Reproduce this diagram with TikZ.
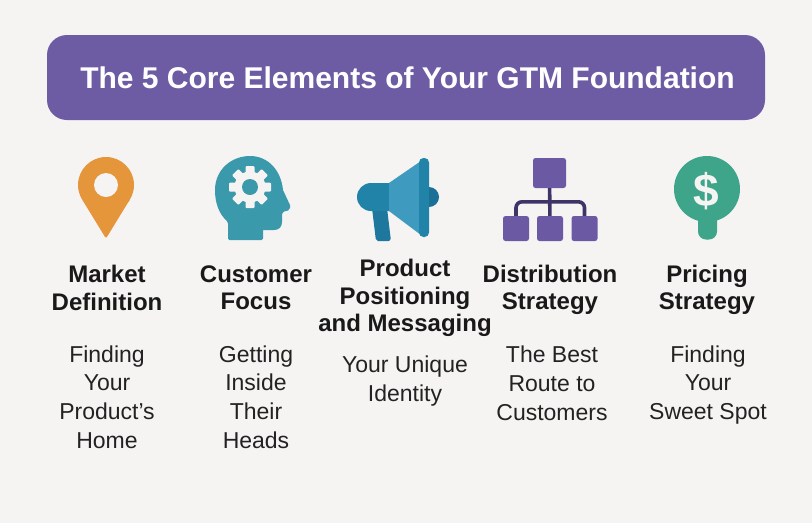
\documentclass[tikz,border=0pt]{standalone}
\usepackage{fontspec}
\setmainfont{Liberation Sans}
\definecolor{pagebg}{HTML}{F6F4F3}
\definecolor{bannerfill}{HTML}{6D5CA3}
\definecolor{pinorange}{HTML}{E5953A}
\definecolor{headteal}{HTML}{3B99AC}
\definecolor{hornlight}{HTML}{3F9ABF}
\definecolor{hornmid}{HTML}{2183A8}
\definecolor{horndark}{HTML}{1C6F96}
\definecolor{orgdark}{HTML}{3F3468}
\definecolor{orgbox}{HTML}{6B59A3}
\definecolor{pricegreen}{HTML}{3FA58A}
\definecolor{inktext}{HTML}{222222}
\tikzset{
  headline/.style={font=\fontsize{24}{27.3}\selectfont\bfseries, text=black!90, align=center, inner sep=0pt},
  subline/.style={font=\fontsize{23}{28.8}\selectfont, text=inktext, align=center, inner sep=0pt},
  orgnode/.style={fill=orgbox, rounded corners=2.5pt, inner sep=0pt},
  orgline/.style={draw=orgdark, line width=3.6pt}
}
\begin{document}
\begin{tikzpicture}[x=1pt,y=-1pt]
\useasboundingbox (0,0) rectangle (812,523);
\fill[pagebg] (0,0) rectangle (812,523);
\node[fill=bannerfill, rounded corners=20pt, minimum width=718pt, minimum height=85pt, inner sep=0pt] (banner) at (406,77.5) {};
\node[font=\fontsize{30}{36}\selectfont\bfseries, text=white, inner sep=0pt] (title) at (407.5,78) {The 5 Core Elements of Your GTM Foundation};
% pin
\fill[pinorange] (106,185) circle (28);
\fill[pinorange] (82.3,199.8) -- (129.7,199.8) [rounded corners=2pt] -- (106,238.5) -- cycle;
\fill[pagebg] (106,185) circle (12);
% head with gear
\fill[headteal] (228,240) [rounded corners=1.5pt] -- (228,222) [sharp corners] .. controls (219,214) and (215,203) .. (215,190) .. controls (215,170) and (231,156) .. (250,156) .. controls (268,156) and (281,170) .. (283,190) -- (290,205) [rounded corners=2pt] -- (290,210) -- (282,212) [sharp corners] -- (282,222) .. controls (282,227) and (279,230) .. (274,230) -- (263,230) [rounded corners=1.5pt] -- (263,240) -- cycle;
\foreach \a in {0,45,...,315}
  \fill[pagebg, rotate around={\a:(250,187)}, rounded corners=1pt] (245.5,166) rectangle (254.5,178);
\fill[pagebg] (250,187) circle (15.5);
\fill[headteal] (250,187) circle (8);
% megaphone
\fill[horndark] (429,197) circle (10);
\fill[horndark!60!hornmid] (372,208) -- (387,208) -- (390.5,237) [rounded corners=2pt] -- (390.5,241) -- (376,241) -- cycle;
\fill[hornmid] (389,183) -- (371,183) arc[start angle=270, end angle=90, radius=14] -- (389,211) -- cycle;
\fill[hornlight] (389,183) -- (421,161) -- (421,235) -- (389,211) -- cycle;
\fill[hornmid, rounded corners=4.5pt] (419,158) rectangle (429,237);
% org chart
\node[orgnode, minimum width=33pt, minimum height=30pt] (orgtop) at (549.5,173) {};
\node[orgnode, minimum width=26pt, minimum height=25pt] (orgleft) at (516,228.5) {};
\node[orgnode, minimum width=26pt, minimum height=25pt] (orgmid) at (550,228.5) {};
\node[orgnode, minimum width=26pt, minimum height=25pt] (orgright) at (584.5,228.5) {};
\draw[orgline] (orgtop) -- (orgmid);
\draw[orgline, rounded corners=6pt] (orgleft.north) -- ++(0,-14) -| (orgright.north);
% price pin
\fill[pricegreen, rounded corners=8pt] (698,210) rectangle (717,239.5);
\fill[pricegreen] (707,189) circle (33);
\node[font=\fontsize{46}{46}\selectfont\bfseries, text=pagebg, inner sep=0pt] (dollar) at (706.5,191.5) {\$};
% titles
\node[headline] (markethead) at (107,288) {Market\\Definition};
\node[headline] (customerhead) at (256,288) {Customer\\Focus};
\node[headline] (producthead) at (405,298) {Product\\Positioning\\and Messaging};
\node[headline] (distribhead) at (550,290) {Distribution\\Strategy};
\node[headline] (pricehead) at (707,290) {Pricing\\Strategy};
% descriptions
\node[subline] (marketsub) at (107,397) {Finding\\Your\\Product’s\\Home};
\node[subline] (customersub) at (256,397) {Getting\\Inside\\Their\\Heads};
\node[subline] (productsub) at (405,381) {Your Unique\\Identity};
\node[subline] (distribsub) at (552,383) {The Best\\Route to\\Customers};
\node[subline] (pricesub) at (708,385) {Finding\\Your\\Sweet Spot};
\end{tikzpicture}
\end{document}
